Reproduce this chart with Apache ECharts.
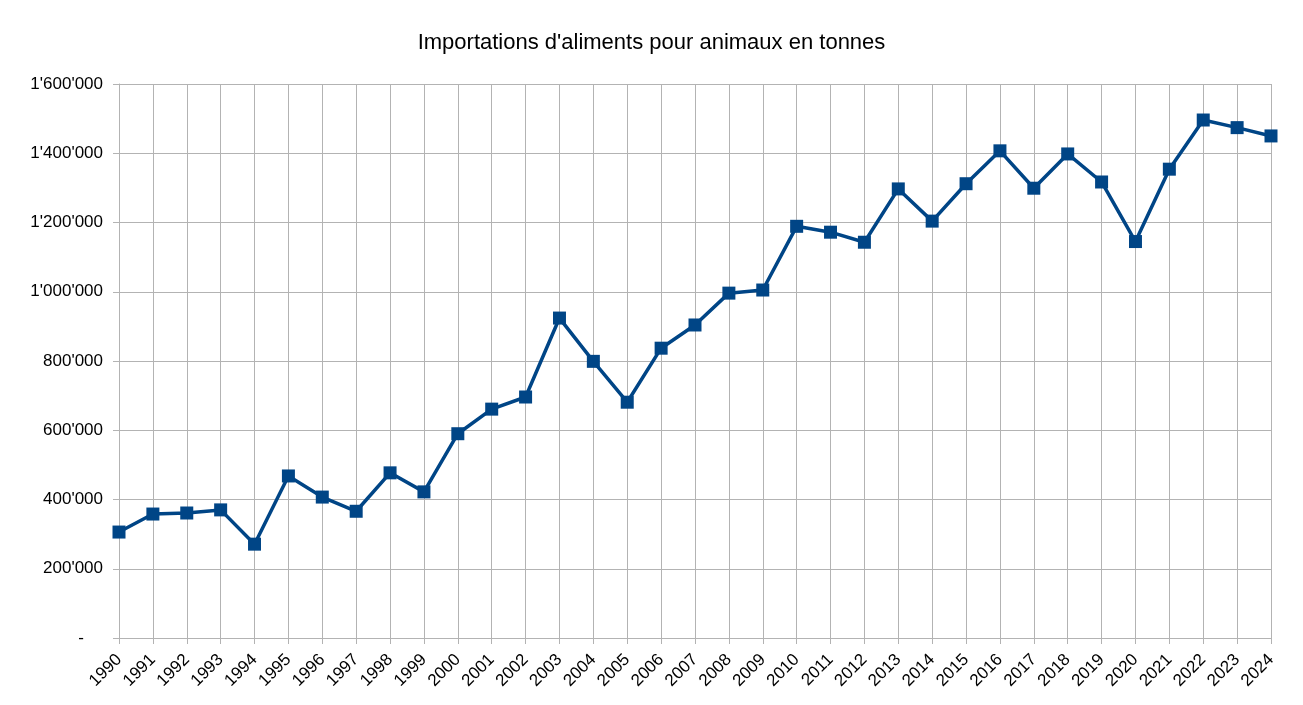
<!DOCTYPE html>
<html>
<head>
    <meta charset="utf-8">
    <title>Importations d'aliments pour animaux</title>
    <script src="https://cdn.jsdelivr.net/npm/echarts@6/dist/echarts.min.js"></script>
</head>
<style>
    * { padding: 0; margin: 0; }
    html, body { width: 100%; height: 100%; background: #fff; }
    #main { width: 1303px; height: 705px; position: absolute; }
</style>
<body>
    <div id="main"></div>
    <script type="text/javascript">
    var years = ['1990', '1991', '1992', '1993', '1994', '1995', '1996', '1997', '1998', '1999',
                 '2000', '2001', '2002', '2003', '2004', '2005', '2006', '2007', '2008', '2009',
                 '2010', '2011', '2012', '2013', '2014', '2015', '2016', '2017', '2018', '2019',
                 '2020', '2021', '2022', '2023', '2024'];
    // tonnes
    var tonnes = [306000, 358000, 361000, 370000, 271000, 468000, 407000, 366000, 477000, 422000,
                  590000, 661000, 696000, 924000, 799000, 681000, 837000, 904000, 996000, 1005000,
                  1189000, 1172000, 1143000, 1297000, 1204000, 1312000, 1407000, 1299000, 1398000, 1317000,
                  1145000, 1354000, 1496000, 1474000, 1450000];
    var yTicks = { min: 0, max: 1600000, interval: 200000 };

    // format suisse : 1'600'000, zéro affiché comme un tiret
    function fmt(v) {
        if (v === 0) return '{dash|-}';
        return String(v).replace(/\B(?=(\d{3})+(?!\d))/g, "'");
    }

    var gridColor = '#b3b3b3';
    var labelFont = { fontFamily: 'Liberation Sans', fontSize: 17, color: '#000' };
    var myChart = echarts.init(document.getElementById('main'));
    var option = {
        animation: false,
        title: {
            text: "Importations d'aliments pour animaux en tonnes",
            left: 'center',
            top: 27,
            textStyle: { fontFamily: 'Liberation Sans', fontSize: 22, fontWeight: 'normal', color: '#000' }
        },
        grid: { left: 119, right: 32, top: 84, bottom: 67 },
        xAxis: {
            type: 'category',
            data: years,
            boundaryGap: false,
            axisLine: { lineStyle: { color: gridColor, width: 1 } },
            axisTick: { show: true, length: 6, alignWithLabel: true, lineStyle: { color: gridColor } },
            splitLine: { show: true, lineStyle: { color: gridColor, width: 1 } },
            axisLabel: Object.assign({ rotate: 45, interval: 0, margin: 19 }, labelFont)
        },
        yAxis: {
            type: 'value',
            min: yTicks.min,
            max: yTicks.max,
            interval: yTicks.interval,
            axisLine: { show: true, lineStyle: { color: gridColor, width: 1 } },
            axisTick: { show: true, length: 6, lineStyle: { color: gridColor } },
            splitLine: { show: true, lineStyle: { color: gridColor, width: 1 } },
            axisLabel: Object.assign({
                margin: 16, formatter: fmt,
                rich: { dash: { fontFamily: 'Liberation Sans', fontSize: 17, color: '#000', padding: [0, 19, 0, 0] } }
            }, labelFont)
        },
        series: [{
            type: 'line',
            data: tonnes,
            symbol: 'rect',
            symbolSize: 13,
            showAllSymbol: true,
            lineStyle: { color: '#004586', width: 3.5 },
            itemStyle: { color: '#004586', borderColor: '#004586', borderWidth: 0 }
        }]
    };
    myChart.setOption(option);
    </script>
</body>
</html>
